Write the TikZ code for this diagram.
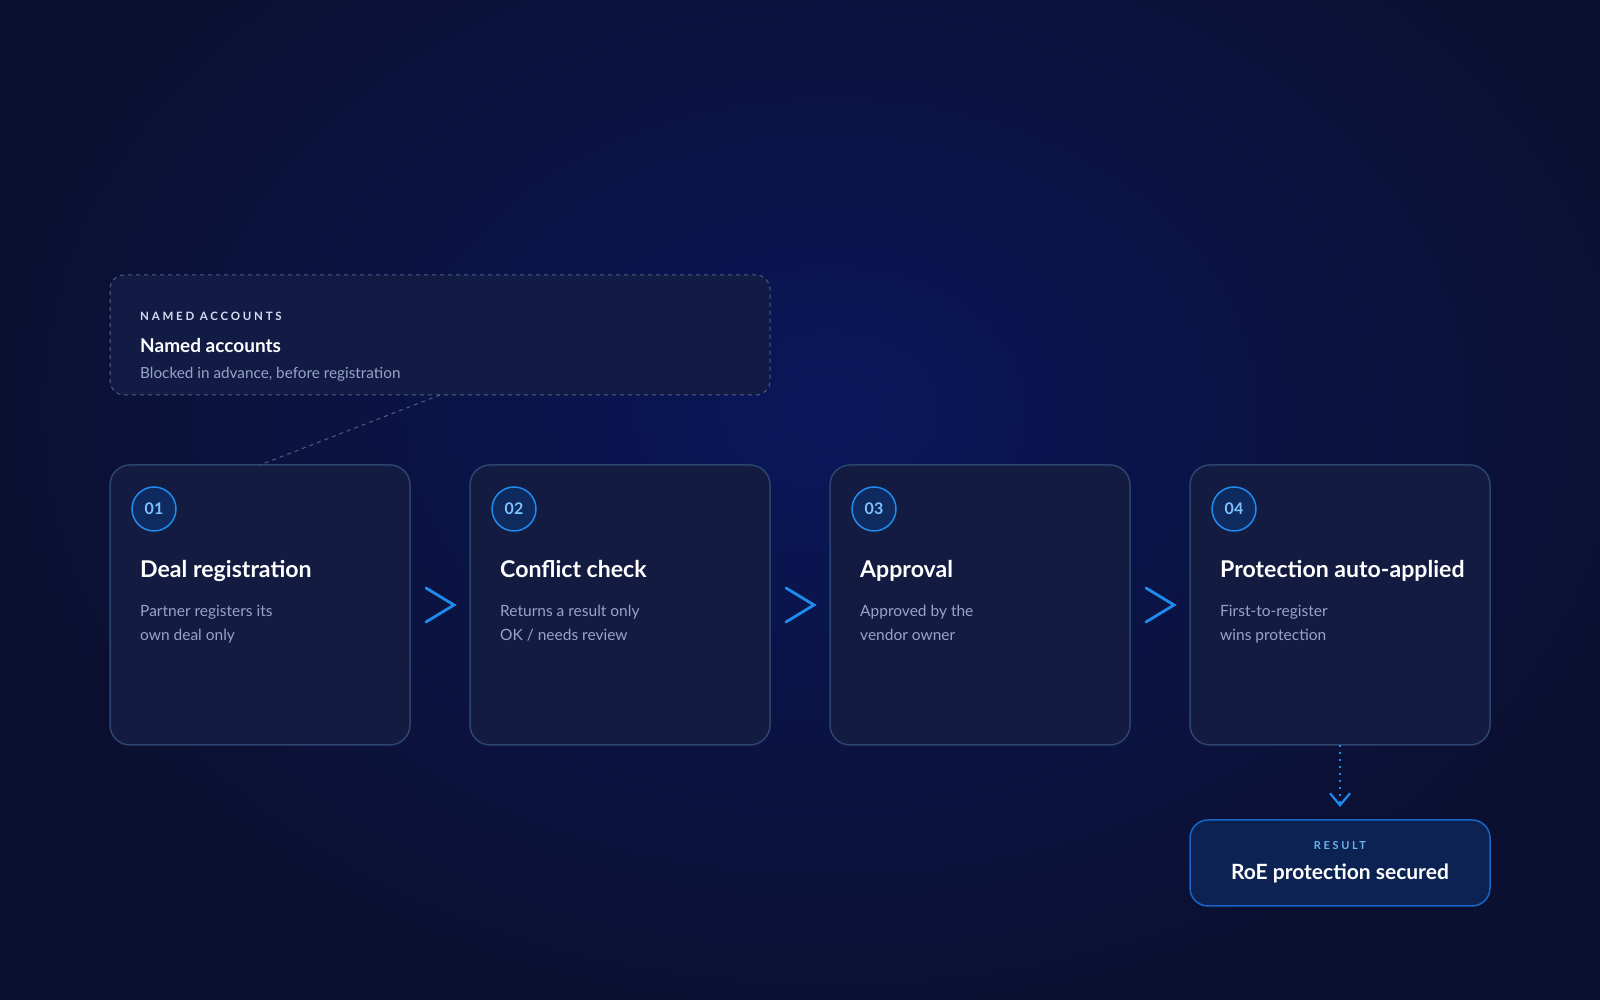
\documentclass[tikz,border=0pt]{standalone}
\usepackage{fontspec}
\setmainfont{Lato}
\newfontfamily\capsfont[LetterSpace=24]{Lato}
\usetikzlibrary{calc, positioning, arrows.meta}
\definecolor{bgedge}{HTML}{0B1030}
\definecolor{bgglow}{HTML}{0A175A}
\definecolor{cardfill}{HTML}{131B40}
\definecolor{cardline}{HTML}{2C4470}
\definecolor{numfill}{HTML}{0F2A5E}
\definecolor{accent}{HTML}{1E8BEF}
\definecolor{numtext}{HTML}{7DC2FF}
\definecolor{desctext}{HTML}{97A3C7}
\definecolor{dashline}{HTML}{4E5E85}
\definecolor{namedfill}{HTML}{111B44}
\definecolor{capstext}{HTML}{D5DDF3}
\definecolor{resfill}{HTML}{0B2253}
\definecolor{resline}{HTML}{1566C8}
\definecolor{reslabel}{HTML}{6DB0EE}
\pgfdeclareradialshading{glow}{\pgfpoint{0bp}{0bp}}{color(0bp)=(bgglow); color(25bp)=(bgedge); color(50bp)=(bgedge)}
\tikzstyle{card}=[draw=cardline, line width=1.5pt, fill=cardfill, rounded corners=20pt, minimum width=300pt, minimum height=280pt, inner sep=0pt, outer sep=0pt]
\tikzstyle{stepnum}=[circle, draw=accent, line width=1.5pt, fill=numfill, minimum size=44pt, inner sep=0pt, text=numtext, font=\fontsize{16}{18}\selectfont\bfseries]
\tikzstyle{steptitle}=[anchor=base west, inner sep=0pt, text=white, font=\fontsize{23.1}{28}\selectfont\bfseries]
\tikzstyle{desc}=[anchor=north west, inner sep=0pt, align=left, text=desctext, font=\fontsize{15.5}{24}\selectfont]
\tikzstyle{chev}=[draw=accent, line width=2.8pt, line cap=round, line join=miter]
\tikzstyle{named}=[draw=dashline, line width=1pt, dash pattern=on 4pt off 4pt, fill=namedfill, rounded corners=14pt, minimum width=660pt, minimum height=120pt, inner sep=0pt, outer sep=0pt]
\tikzstyle{capslabel}=[anchor=base west, inner sep=0pt, text=capstext, font=\capsfont\fontsize{11.5}{13}\selectfont\bfseries]
\tikzstyle{link}=[draw=dashline, line width=1pt, dash pattern=on 4pt off 4pt]
\tikzstyle{result}=[draw=resline, line width=1.5pt, fill=resfill, rounded corners=18pt, minimum width=300pt, minimum height=86pt, inner sep=0pt, outer sep=0pt]
\tikzstyle{dotarrow}=[draw=accent, line width=2pt, dash pattern=on 2pt off 5pt, -{Straight Barb[length=12pt,width=20pt,line width=2.2pt]}, shorten >=13pt]

\begin{document}
\begin{tikzpicture}[x=1pt, y=1pt, node distance=60pt]
  \useasboundingbox (0,0) rectangle (1600,1000);
  % background glow
  \fill[bgedge] (0,0) rectangle (1600,1000);
  \shade[shading=glow] (830,590) ellipse (850 and 620);

  % named accounts box
  \node [named] (acc) at (440,665) {};
  \node [capslabel] (acchead) at ($(acc.north west)+(30,-46)$) {NAMED ACCOUNTS};
  \node [steptitle, font=\fontsize{19}{22}\selectfont\bfseries] (acctitle) at ($(acc.north west)+(30,-78)$) {Named accounts};
  \node [desc, anchor=base west, font=\fontsize{15.3}{18}\selectfont] (accdesc) at ($(acc.north west)+(30,-104)$) {Blocked in advance, before registration};

  % steps
  \node [card] (s1) at (260,395) {};
  \node [card, right=of s1] (s2) {};
  \node [card, right=of s2] (s3) {};
  \node [card, right=of s3] (s4) {};

  \node [stepnum] (n1) at ($(s1.north west)+(44,-44)$) {01};
  \node [stepnum] (n2) at ($(s2.north west)+(44,-44)$) {02};
  \node [stepnum] (n3) at ($(s3.north west)+(44,-44)$) {03};
  \node [stepnum] (n4) at ($(s4.north west)+(44,-44)$) {04};

  \node [steptitle] (t1) at ($(s1.north west)+(30,-113)$) {Deal registration};
  \node [steptitle] (t2) at ($(s2.north west)+(30,-113)$) {Conflict check};
  \node [steptitle] (t3) at ($(s3.north west)+(30,-113)$) {Approval};
  \node [steptitle] (t4) at ($(s4.north west)+(30,-113)$) {Protection auto-applied};

  \node [desc] (d1) at ($(s1.north west)+(30,-140)$) {Partner registers its\\own deal only};
  \node [desc] (d2) at ($(s2.north west)+(30,-140)$) {Returns a result only\\OK / needs review};
  \node [desc] (d3) at ($(s3.north west)+(30,-140)$) {Approved by the\\vendor owner};
  \node [desc] (d4) at ($(s4.north west)+(30,-140)$) {First-to-register\\wins protection};

  % chevrons between steps
  \coordinate (m1) at ($(s1.east)!0.5!(s2.west)$);
  \coordinate (m2) at ($(s2.east)!0.5!(s3.west)$);
  \coordinate (m3) at ($(s3.east)!0.5!(s4.west)$);
  \draw[chev] ($(m1)+(-14,17)$) -- ($(m1)+(14,0)$) -- ($(m1)+(-14,-17)$);
  \draw[chev] ($(m2)+(-14,17)$) -- ($(m2)+(14,0)$) -- ($(m2)+(-14,-17)$);
  \draw[chev] ($(m3)+(-14,17)$) -- ($(m3)+(14,0)$) -- ($(m3)+(-14,-17)$);

  % result
  \node [result] (res) at (1340,137) {};
  \node [capslabel, anchor=base, text=reslabel, font=\capsfont\fontsize{11}{12}\selectfont\bfseries] (reshead) at ($(res.north)+(0,-30)$) {RESULT};
  \node [steptitle, anchor=base, font=\fontsize{21}{24}\selectfont\bfseries] (restitle) at ($(res.north)+(0,-60)$) {RoE protection secured};

  \path[link] (acc.south) -- (s1.north);
  \path[dotarrow] (s4.south) -- (res.north);
\end{tikzpicture}
\end{document}
